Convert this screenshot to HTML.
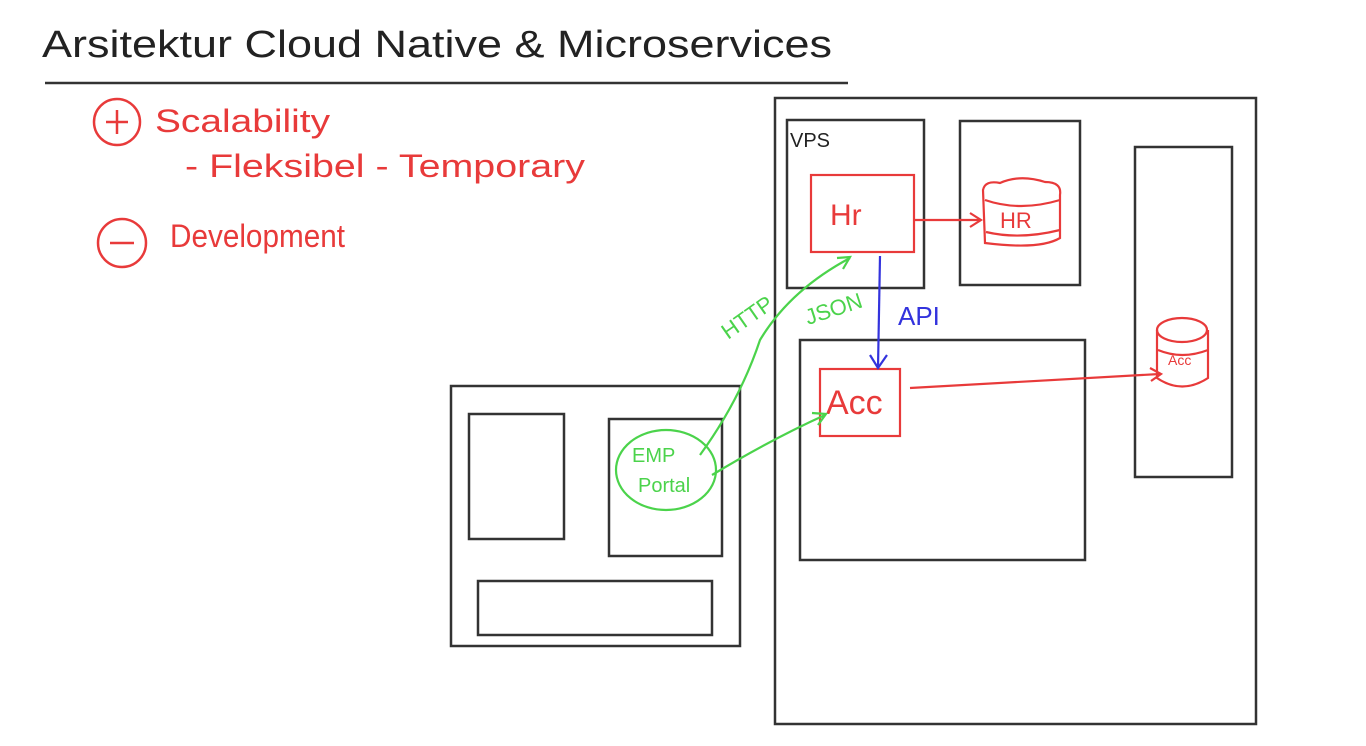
<!DOCTYPE html>
<html><head><meta charset="utf-8"><style>
html,body{margin:0;padding:0;background:#fff;}
svg{display:block}
text{font-family:"Liberation Sans",sans-serif;}
</style></head><body>
<svg width="1366" height="746" viewBox="0 0 1366 746" xmlns="http://www.w3.org/2000/svg">
<rect width="1366" height="746" fill="#fff"/>
<!-- title -->
<text x="42" y="57" font-size="38" fill="#222" textLength="790" lengthAdjust="spacingAndGlyphs">Arsitektur  Cloud Native  &amp;  Microservices</text>
<line x1="45" y1="83" x2="848" y2="83" stroke="#333" stroke-width="2.5"/>
<!-- red notes -->
<g fill="none" stroke="#e83a3a" stroke-width="2.5">
<circle cx="117" cy="122" r="23"/>
<line x1="117" y1="110" x2="117" y2="134"/><line x1="106" y1="122" x2="128" y2="122"/>
<circle cx="122" cy="243" r="24"/>
<line x1="110" y1="243" x2="134" y2="243"/>
</g>
<g fill="#e83a3a">
<text x="155" y="132" font-size="32" textLength="175" lengthAdjust="spacingAndGlyphs">Scalability</text>
<text x="185" y="177" font-size="32" textLength="400" lengthAdjust="spacingAndGlyphs">- Fleksibel  - Temporary</text>
<text x="170" y="247" font-size="32" textLength="175" lengthAdjust="spacingAndGlyphs">Development</text>
</g>
<!-- black boxes -->
<g fill="none" stroke="#333" stroke-width="2.5">
<rect x="775" y="98" width="481" height="626"/>
<rect x="787" y="120" width="137" height="168"/>
<rect x="960" y="121" width="120" height="164"/>
<rect x="1135" y="147" width="97" height="330"/>
<rect x="800" y="340" width="285" height="220"/>
<rect x="451" y="386" width="289" height="260"/>
<rect x="469" y="414" width="95" height="125"/>
<rect x="609" y="419" width="113" height="137"/>
<rect x="478" y="581" width="234" height="54"/>
</g>
<text x="790" y="147" font-size="20" fill="#222">VPS</text>
<!-- red elements -->
<g fill="none" stroke="#e83a3a" stroke-width="2.2">
<rect x="811" y="175" width="103" height="77"/>
<rect x="820" y="369" width="80" height="67"/>
<path d="M983 190 Q985 180 1000 183 Q1020 174 1045 182 Q1062 182 1060 195 L1060 238 Q1040 250 985 243 Z"/>
<path d="M985 200 Q1020 212 1060 200"/>
<path d="M986 232 Q1020 240 1060 230"/>
<line x1="915" y1="220" x2="980" y2="220"/>
<path d="M970 213 L981 220 L970 227"/>
<ellipse cx="1182" cy="330" rx="25" ry="12"/>
<path d="M1157 330 L1157 378 Q1182 395 1208 378 L1208 330"/>
<path d="M1158 350 Q1182 360 1208 350"/>
<line x1="910" y1="388" x2="1160" y2="374"/>
<path d="M1150 368 L1161 374 L1151 381"/>
</g>
<text x="830" y="225" font-size="30" fill="#e83a3a">Hr</text>
<text x="1000" y="228" font-size="22" fill="#e83a3a">HR</text>
<text x="826" y="414" font-size="34" fill="#e83a3a">Acc</text>
<text x="1168" y="365" font-size="14" fill="#e83a3a">Acc</text>
<!-- blue -->
<g stroke="#3333dd" stroke-width="2.2" fill="none">
<line x1="880" y1="256" x2="878" y2="368"/>
<path d="M870 355 L878 368 L887 355"/>
</g>
<text x="898" y="325" font-size="26" fill="#3333dd">API</text>
<!-- green -->
<g stroke="#4bd34b" stroke-width="2.2" fill="none">
<ellipse cx="666" cy="470" rx="50" ry="40"/>
<path d="M700 455 Q740 400 760 340 Q790 290 850 258"/>
<path d="M837 258 L850 257 L843 269"/>
<path d="M712 475 Q770 440 825 415"/>
<path d="M812 413 L826 414 L818 425"/>
</g>
<g fill="#4bd34b">
<text x="632" y="462" font-size="20">EMP</text>
<text x="638" y="492" font-size="20">Portal</text>
<text x="0" y="0" font-size="22" transform="translate(728,340) rotate(-35)">HTTP</text>
<text x="0" y="0" font-size="22" transform="translate(808,325) rotate(-18)">JSON</text>
</g>
</svg>
</body></html>
